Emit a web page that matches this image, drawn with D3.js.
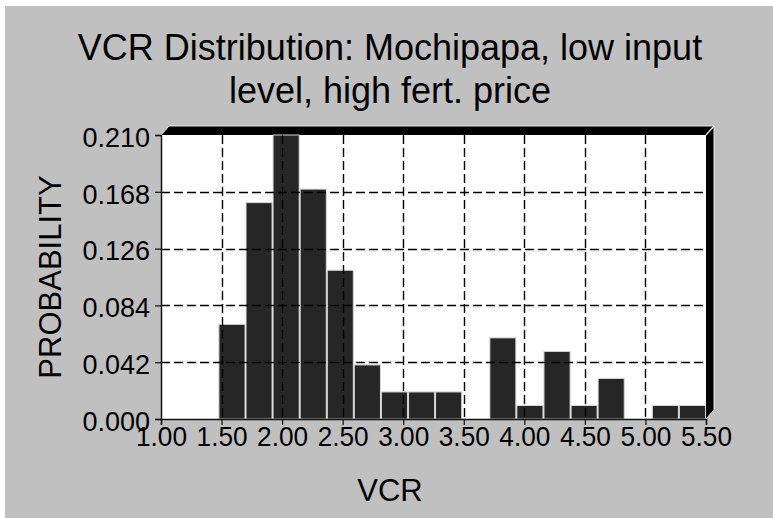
<!DOCTYPE html>
<html>
<head>
  <title>VCR Distribution</title>
  <script src="https://d3js.org/d3.v7.min.js"></script>
  <style>
    body { margin: 0; background: #fff; }
    text { font-family: Arial, "Liberation Sans", sans-serif; fill: #000; }
  </style>
</head>
<body>
  <script>

// histogram bins (lower edges + last upper edge) and probabilities
const binEdges = [1.474, 1.698, 1.921, 2.145, 2.369, 2.592, 2.816, 3.040, 3.263,
                  3.487, 3.711, 3.934, 4.158, 4.382, 4.605, 4.829, 5.053, 5.276, 5.500];
const probs = [0.070, 0.160, 0.210, 0.170, 0.110, 0.040, 0.020, 0.020, 0.020,
               0.000, 0.060, 0.010, 0.050, 0.010, 0.030, 0.000, 0.010, 0.010];

const xTicks = [1.00, 1.50, 2.00, 2.50, 3.00, 3.50, 4.00, 4.50, 5.00, 5.50];
const yTicks = [0.000, 0.042, 0.084, 0.126, 0.168, 0.210];

const titleLines = ["VCR Distribution: Mochipapa, low input", "level, high fert. price"];

const W = 773, H = 518;
const plot = { left: 161, right: 706, top: 135, bottom: 419 };
const depth = { dx: 8, dy: -9 };

const svg = d3.select("body").append("svg")
  .attr("width", W)
  .attr("height", H);

// grey panel
svg.append("rect")
  .attr("x", 5).attr("y", 6)
  .attr("width", W - 5).attr("height", H - 6)
  .attr("fill", "#c0c0c0");

const x = d3.scaleLinear().domain([1.0, 5.5]).range([plot.left, plot.right]);
const y = d3.scaleLinear().domain([0, 0.21]).range([plot.bottom, plot.top]);

// title
svg.append("g").selectAll("text")
  .data(titleLines)
  .enter().append("text")
  .attr("x", 390)
  .attr("y", (d, i) => 60 + i * 43)
  .attr("text-anchor", "middle")
  .style("font-size", "36px")
  .text(d => d);

// 3D frame: top and right faces
const topFace = [[plot.left, plot.top], [plot.left + depth.dx, plot.top + depth.dy],
                 [plot.right + depth.dx, plot.top + depth.dy], [plot.right, plot.top]];
const sideFace = [[plot.right, plot.top], [plot.right + depth.dx, plot.top + depth.dy],
                  [plot.right + depth.dx, plot.bottom + depth.dy], [plot.right, plot.bottom]];
[topFace, sideFace].forEach(p => {
  svg.append("polygon")
    .attr("points", p.map(d => d.join(",")).join(" "))
    .attr("fill", "#000");
});
// light outer edges
svg.append("polyline")
  .attr("points", [[plot.left, plot.top], [plot.left + depth.dx, plot.top + depth.dy],
                   [plot.right + depth.dx, plot.top + depth.dy],
                   [plot.right + depth.dx, plot.bottom + depth.dy],
                   [plot.right, plot.bottom]].map(d => d.join(",")).join(" "))
  .attr("fill", "none")
  .attr("stroke", "#e6e6e6")
  .attr("stroke-width", 1);
svg.append("line")
  .attr("x1", plot.right).attr("y1", plot.top)
  .attr("x2", plot.right + depth.dx).attr("y2", plot.top + depth.dy)
  .attr("stroke", "#f0f0f0").attr("stroke-width", 1.2);

// plot background
svg.append("rect")
  .attr("x", plot.left).attr("y", plot.top)
  .attr("width", plot.right - plot.left)
  .attr("height", plot.bottom - plot.top)
  .attr("fill", "#fff");

// bars
const bins = probs.map((p, i) => ({ lo: binEdges[i], hi: binEdges[i + 1], p: p }));
svg.append("g").selectAll("rect")
  .data(bins.filter(d => d.p > 0))
  .enter().append("rect")
  .attr("x", d => x(d.lo) + 0.5)
  .attr("width", d => x(d.hi) - x(d.lo) - 1)
  .attr("y", d => y(d.p))
  .attr("height", d => y(0) - y(d.p))
  .attr("fill", "#262626")
  .attr("stroke", "#d8d8d8")
  .attr("stroke-width", 1);

// dashed grid
const grid = svg.append("g")
  .attr("stroke", "#000")
  .attr("stroke-width", 1.4)
  .attr("stroke-dasharray", "9,4");
grid.selectAll(".vg")
  .data(xTicks.slice(1, -1))
  .enter().append("line")
  .attr("x1", d => Math.round(x(d)) + 0.5).attr("x2", d => Math.round(x(d)) + 0.5)
  .attr("y1", plot.top).attr("y2", plot.bottom);
grid.selectAll(".hg")
  .data(yTicks.slice(1, -1))
  .enter().append("line")
  .attr("y1", d => Math.round(y(d)) + 0.5).attr("y2", d => Math.round(y(d)) + 0.5)
  .attr("x1", plot.left).attr("x2", plot.right);

// axes
const xAxis = d3.axisBottom(x)
  .tickValues(xTicks)
  .tickFormat(d3.format(".2f"))
  .tickSize(6)
  .tickPadding(2);
const gx = svg.append("g")
  .attr("transform", `translate(0,${plot.bottom})`)
  .call(xAxis);
gx.select(".domain").attr("stroke", "#111").attr("stroke-width", 1.5);
gx.selectAll("line").attr("stroke", "#111").attr("stroke-width", 1.2);
gx.selectAll("text")
  .style("font-size", "27px")
  .style("font-family", "Arial, 'Liberation Sans', sans-serif")
  .attr("textLength", 51)
  .attr("lengthAdjust", "spacingAndGlyphs")
  .attr("fill", "#000");

const yAxis = d3.axisLeft(y)
  .tickValues(yTicks)
  .tickFormat(d3.format(".3f"))
  .tickSize(6)
  .tickPadding(5);
const gy = svg.append("g")
  .attr("transform", `translate(${plot.left},0)`)
  .call(yAxis);
gy.select(".domain").attr("stroke", "#111").attr("stroke-width", 1.5);
gy.selectAll("line").attr("stroke", "#111").attr("stroke-width", 1.2);
gy.selectAll("text")
  .style("font-size", "27px")
  .style("font-family", "Arial, 'Liberation Sans', sans-serif")
  .attr("dy", "0.42em")
  .attr("fill", "#000");

// axis titles
svg.append("text")
  .attr("x", 390).attr("y", 501)
  .attr("text-anchor", "middle")
  .style("font-size", "31px")
  .text("VCR");

svg.append("text")
  .attr("transform", `translate(61,${(plot.top + plot.bottom) / 2}) rotate(-90)`)
  .attr("text-anchor", "middle")
  .style("font-size", "31px")
  .text("PROBABILITY");

  </script>
</body>
</html>
